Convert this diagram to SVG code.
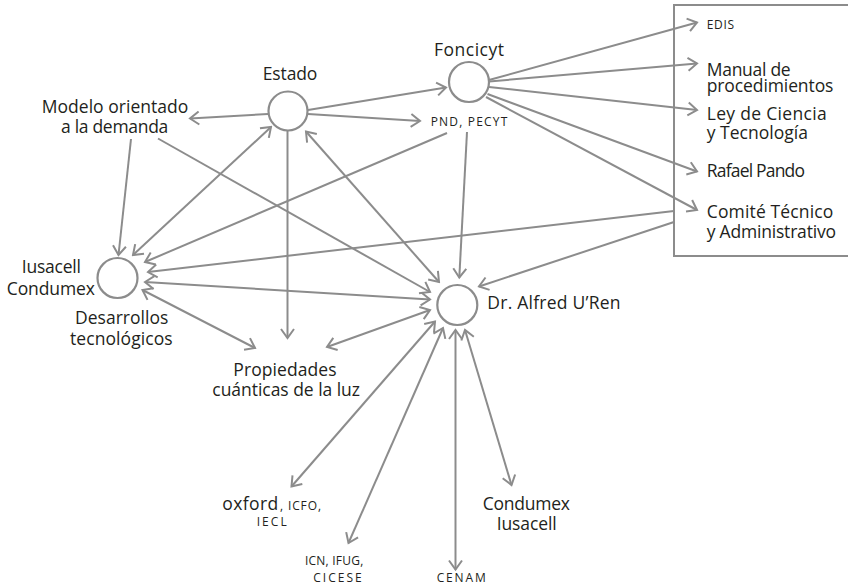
<svg xmlns="http://www.w3.org/2000/svg" width="848" height="587" viewBox="0 0 848 587">
<defs>
<style>
.t{font-family:"Open Sans","Liberation Sans",sans-serif;font-size:17.5px;fill:#231f20}
.s{font-family:"Open Sans","Liberation Sans",sans-serif;font-size:12px;fill:#231f20}
.c{fill:#fff;stroke:#8c8c8c;stroke-width:2.2}
.e line{stroke:#8c8c8c;stroke-width:2;fill:none}
.one{marker-end:url(#ah)}
.two{marker-start:url(#ah);marker-end:url(#ah)}
</style>
<marker id="ah" markerUnits="userSpaceOnUse" viewBox="-12 -8 14 16" refX="0" refY="0" markerWidth="14" markerHeight="16" orient="auto-start-reverse">
<path d="M-9,-6.5 L0,0 L-9,6.5" fill="none" stroke="#8c8c8c" stroke-width="2" stroke-linejoin="miter"/>
</marker>
</defs>
<rect width="848" height="587" fill="#fff"/>

<g id="box">
<rect x="674" y="5" width="180" height="251" fill="none" stroke="#8c8c8c" stroke-width="2"/>
</g>

<g id="connectors" class="e">
<line class="one" x1="268" y1="114" x2="190" y2="118.5"/>
<line class="one" x1="308" y1="110" x2="446" y2="87.5"/>
<line class="one" x1="308" y1="114" x2="420" y2="121"/>
<line class="one" x1="287.5" y1="131" x2="287.5" y2="338"/>
<line class="two" x1="271" y1="127" x2="133" y2="255"/>
<line class="one" x1="131" y1="139" x2="118.5" y2="255"/>
<line class="one" x1="158" y1="138.5" x2="430" y2="292"/>
<line class="one" x1="447" y1="133" x2="145" y2="262"/>
<line class="one" x1="467" y1="132" x2="459.3" y2="277.5"/>
<line class="one" x1="674" y1="211" x2="148" y2="272"/>
<line class="one" x1="674" y1="222" x2="479" y2="286.5"/>
<line class="two" x1="306" y1="131.5" x2="439" y2="282"/>
<line class="two" x1="145" y1="282" x2="430" y2="299.5"/>
<line class="two" x1="142.5" y1="290" x2="255" y2="348"/>
<line class="two" x1="327" y1="347" x2="430" y2="310"/>
<line class="two" x1="435" y1="321.5" x2="291.5" y2="486.5"/>
<line class="two" x1="443" y1="328" x2="348.5" y2="543"/>
<line class="two" x1="455.5" y1="330" x2="455.5" y2="569.5"/>
<line class="two" x1="465" y1="330" x2="511.5" y2="485"/>
<line class="one" x1="489" y1="80" x2="697" y2="22.5"/>
<line class="one" x1="489" y1="81.5" x2="697" y2="63.5"/>
<line class="one" x1="489" y1="87" x2="697" y2="110"/>
<line class="one" x1="487.5" y1="94" x2="697" y2="171.5"/>
<line class="one" x1="486" y1="97" x2="697" y2="210"/>
</g>

<g id="n-estado">
<circle class="c" cx="288" cy="111" r="19.5"/>
<text class="t" x="262.7" y="80" textLength="54.7" lengthAdjust="spacing">Estado</text>
</g>
<g id="n-foncicyt">
<circle class="c" cx="469" cy="82" r="20"/>
<text class="t" x="434" y="56" textLength="70" lengthAdjust="spacing">Foncicyt</text>
</g>
<g id="n-iusacell">
<circle class="c" cx="117.5" cy="278" r="20"/>
<text class="t" x="21.7" y="273.3" textLength="59.3" lengthAdjust="spacing">Iusacell</text>
<text class="t" x="6.7" y="294.5" textLength="88.3" lengthAdjust="spacing">Condumex</text>
</g>
<g id="n-alfred">
<circle class="c" cx="457.3" cy="305" r="20"/>
<text class="t" x="487.3" y="309.3" textLength="133.3" lengthAdjust="spacing">Dr. Alfred U’Ren</text>
</g>
<g id="n-modelo">
<text class="t" x="41.7" y="113.3" textLength="146.7" lengthAdjust="spacing">Modelo orientado</text>
<text class="t" x="61" y="132.7" textLength="107.3" lengthAdjust="spacing">a la demanda</text>
</g>
<g id="n-pnd">
<text class="s" x="430.7" y="125.7" textLength="76.6" lengthAdjust="spacing">PND, PECYT</text>
</g>
<g id="n-desarrollos">
<text class="t" x="75" y="324" textLength="93.3" lengthAdjust="spacing">Desarrollos</text>
<text class="t" x="70" y="345" textLength="102.7" lengthAdjust="spacing">tecnológicos</text>
</g>
<g id="n-propiedades">
<text class="t" x="233.3" y="376" textLength="103.3" lengthAdjust="spacing">Propiedades</text>
<text class="t" x="212.3" y="396" textLength="147.7" lengthAdjust="spacing">cuánticas de la luz</text>
</g>
<g id="n-oxford">
<text y="510"><tspan class="t" x="222.3" textLength="56" lengthAdjust="spacing">oxford</tspan><tspan class="s" x="280" textLength="41" lengthAdjust="spacing">, ICFO,</tspan></text>
<text class="s" x="256.7" y="526" textLength="30" lengthAdjust="spacing">IECL</text>
</g>
<g id="n-icn">
<text class="s" x="305" y="565" textLength="58.3" lengthAdjust="spacing">ICN, IFUG,</text>
<text class="s" x="313.3" y="581.7" textLength="48.4" lengthAdjust="spacing">CICESE</text>
</g>
<g id="n-cenam">
<text class="s" x="436.7" y="581.7" textLength="49" lengthAdjust="spacing">CENAM</text>
</g>
<g id="n-condumex">
<text class="t" x="482.7" y="510" textLength="87.3" lengthAdjust="spacing">Condumex</text>
<text class="t" x="496.7" y="530" textLength="60" lengthAdjust="spacing">Iusacell</text>
</g>
<g id="n-edis">
<text class="s" x="706.7" y="29.3" textLength="27.3" lengthAdjust="spacing">EDIS</text>
</g>
<g id="n-manual">
<text class="t" x="706.7" y="76.3" textLength="84" lengthAdjust="spacing">Manual de</text>
<text class="t" x="706.7" y="91.7" textLength="126.7" lengthAdjust="spacing">procedimientos</text>
</g>
<g id="n-ley">
<text class="t" x="706.7" y="120" textLength="120" lengthAdjust="spacing">Ley de Ciencia</text>
<text class="t" x="706.7" y="139" textLength="101.3" lengthAdjust="spacing">y Tecnología</text>
</g>
<g id="n-rafael">
<text class="t" x="706.7" y="177" textLength="98.3" lengthAdjust="spacing">Rafael Pando</text>
</g>
<g id="n-comite">
<text class="t" x="706.7" y="218" textLength="126.7" lengthAdjust="spacing">Comité Técnico</text>
<text class="t" x="706.7" y="237.5" textLength="129.3" lengthAdjust="spacing">y Administrativo</text>
</g>
</svg>
